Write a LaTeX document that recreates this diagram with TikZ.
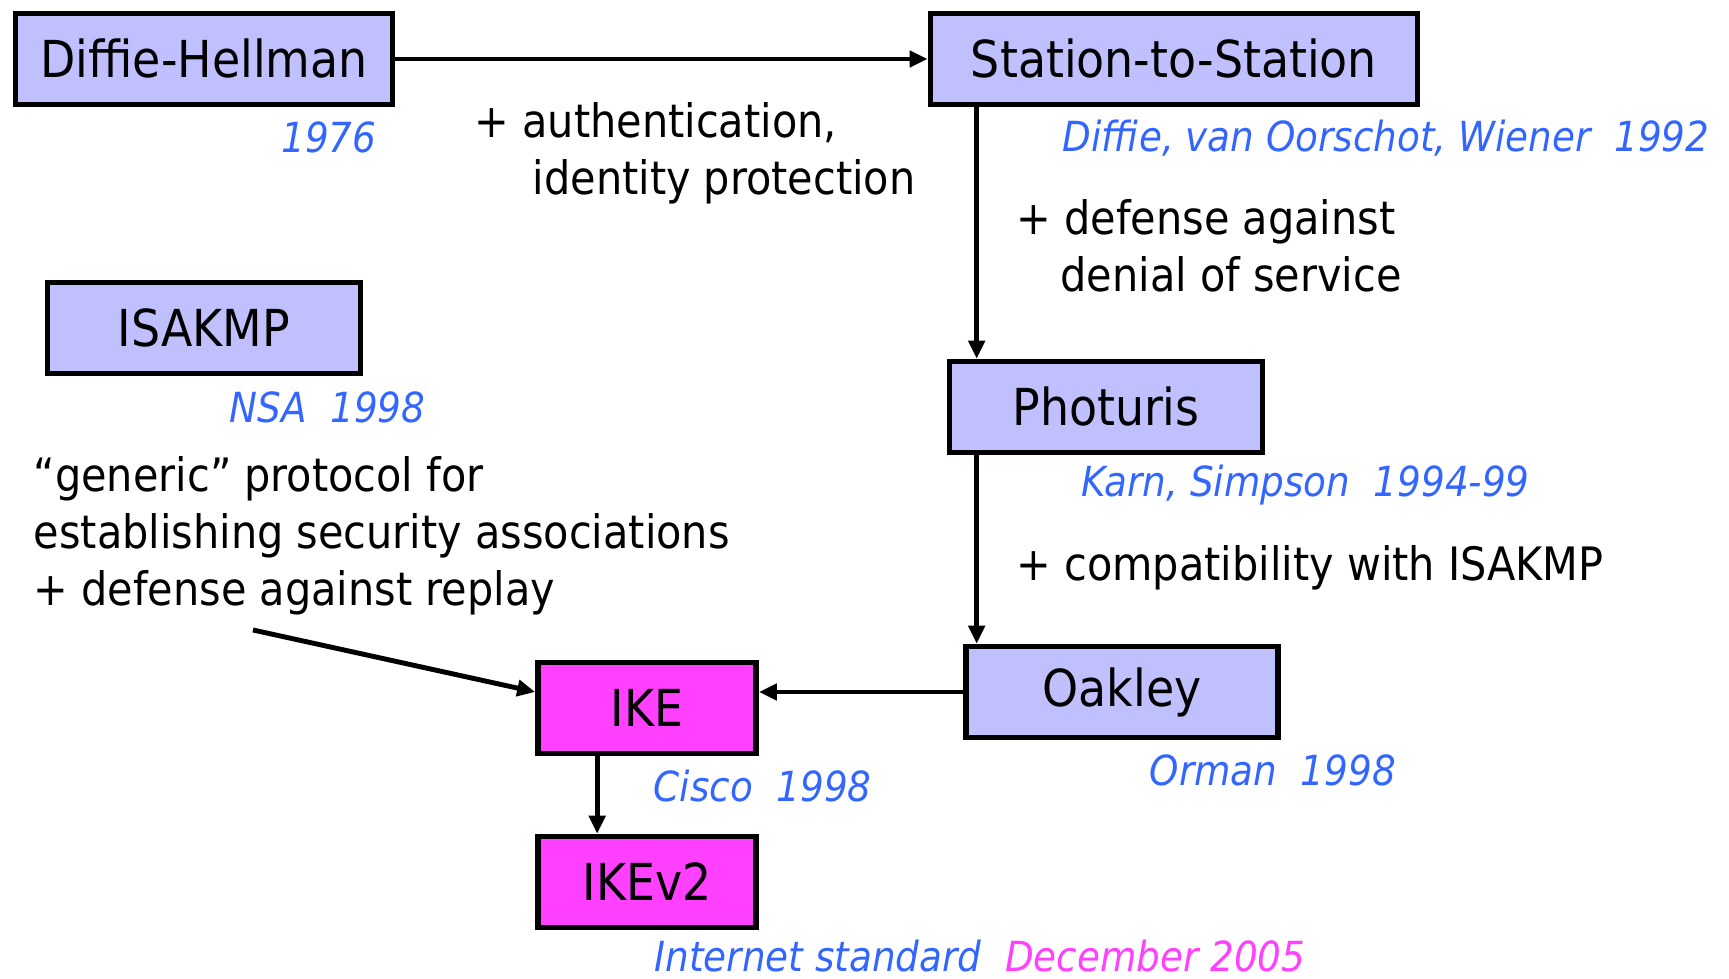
\documentclass[tikz,border=0pt]{standalone}
\usepackage{fontspec}
\setmainfont{DejaVu Sans Condensed}
\usetikzlibrary{arrows.meta}
\definecolor{boxblue}{RGB}{192,192,255}
\definecolor{boxpink}{RGB}{255,64,255}
\definecolor{whoblue}{RGB}{51,102,255}
\begin{document}
\begin{tikzpicture}[x=0.1mm,y=-0.1mm]
\tikzstyle{every node}+=[inner sep=0pt]
\tikzstyle{proto}=[draw=black,line width=1.6pt,fill=boxblue,minimum height=9.1mm,font=\fontsize{14.5}{17}\selectfont]
\tikzstyle{ikebox}=[proto,fill=boxpink]
\tikzstyle{who}=[text=whoblue,font=\fontsize{11.8}{14}\selectfont\itshape]
\tikzstyle{note}=[align=left,anchor=west,font=\fontsize{13.1}{16.2}\selectfont]
\tikzstyle{link}=[line width=1.4pt,-{Triangle[length=1.8mm,width=1.6mm]}]
\useasboundingbox (0,0) rectangle (1729,979);
\node[proto,minimum width=37.7mm] (dh) at (204,59) {Diffie-Hellman};
\node[proto,minimum width=48.7mm] (sts) at (1174,59) {Station-to-Station};
\node[proto,minimum width=31.3mm] (isakmp) at (204,328) {ISAKMP};
\node[proto,minimum width=31.3mm] (pho) at (1106,407) {Photuris};
\node[proto,minimum width=31.2mm] (oak) at (1122,692) {Oakley};
\node[ikebox,minimum width=21.8mm] (ike) at (647,708) {IKE};
\node[ikebox,minimum width=21.8mm] (ikev) at (647,882) {IKEv2};
\node[who,anchor=east] (dhwho) at (377,137) {1976};
\node[who,anchor=west] (stswho) at (1062,138) {Diffie, van Oorschot, Wiener~~1992};
\node[who,anchor=west] (isawho) at (229,407) {NSA~~1998};
\node[who,anchor=west] (phowho) at (1081,485) {Karn, Simpson~~1994-99};
\node[who,anchor=west] (oakwho) at (1149,770) {Orman~~1998};
\node[who,anchor=west] (ikewho) at (653,786) {Cisco~~1998};
\node[who,anchor=west] (ikevwho) at (654,956) {Internet standard~~\textcolor{boxpink}{December 2005}};
\node[note] (auth) at (474,153) {+ authentication,\\\hspace*{5.8mm}identity protection};
\node[note] (dos) at (1016,246) {+ defense against\\\hspace*{4.4mm}denial of service};
\node[note] (generic) at (33,536) {``generic'' protocol for\\establishing security associations\\+ defense against replay};
\node[note] (compat) at (1016,568) {+ compatibility with ISAKMP};
\coordinate (genend) at (253,630);
\draw[link] (dh) -- (sts);
\draw[link] ([xshift=3mm]pho.north west |- sts.south) -- ([xshift=3mm]pho.north west);
\draw[link] ([xshift=3mm]pho.south west) -- ([xshift=3mm]pho.south west |- oak.north);
\draw[link] (oak.west) -- (ike.east |- oak.west);
\draw[link] (genend) -- ([yshift=1.6mm]ike.west);
\draw[link] ([xshift=6.2mm]ike.south west) -- ([xshift=6.2mm]ike.south west |- ikev.north);
\end{tikzpicture}
\end{document}
